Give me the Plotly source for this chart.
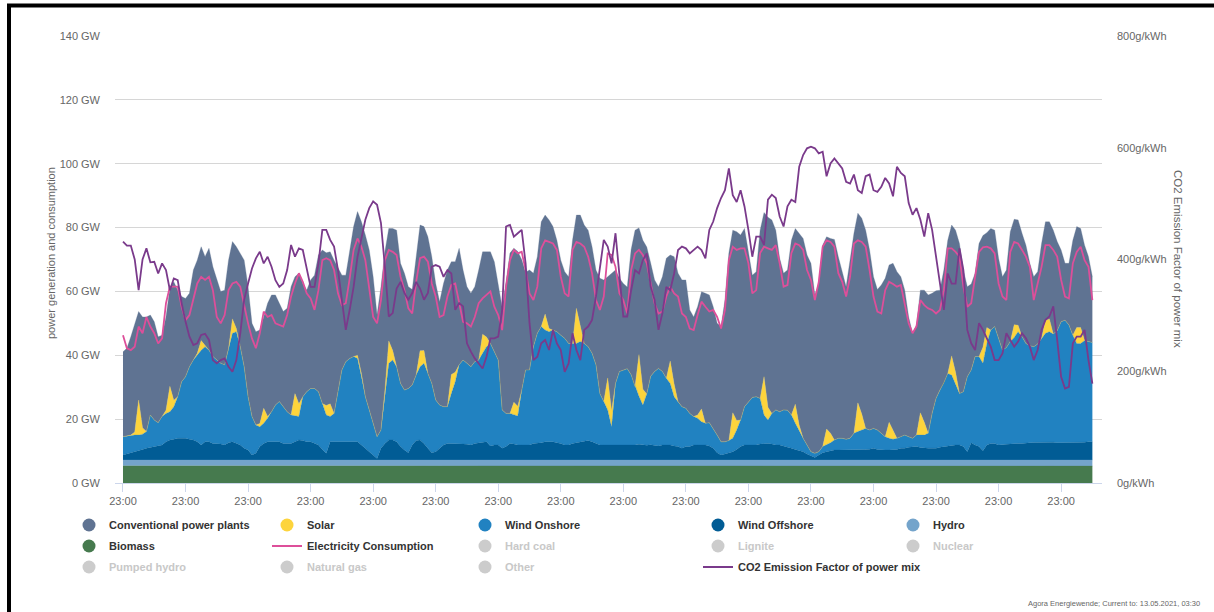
import plotly.graph_objects as go
import pandas as pd

# ---------------- data (3-hourly, starting 11.04.2021 23:00) ----------------
start = "2021-04-11 23:00"
n_points = 249

biomass = [
 5.4,5.4,5.4,5.3,5.3,5.3,5.4,5.4, 5.4,5.3,5.3,5.3,5.3,5.3,5.4,5.4,
 5.4,5.4,5.3,5.3,5.3,5.3,5.3,5.4, 5.4,5.4,5.3,5.3,5.3,5.3,5.4,5.4,
 5.3,5.3,5.3,5.3,5.2,5.2,5.3,5.3, 5.3,5.3,5.3,5.3,5.3,5.3,5.3,5.3,
 5.3,5.3,5.2,5.2,5.2,5.2,5.3,5.3, 5.3,5.3,5.3,5.3,5.3,5.3,5.3,5.3,
 5.3,5.3,5.3,5.3,5.3,5.3,5.3,5.3, 5.3,5.2,5.2,5.3,5.3,5.3,5.3,5.3,
 5.3,5.3,5.3,5.3,5.3,5.3,5.3,5.3, 5.3,5.3,5.2,5.2,5.2,5.3,5.3,5.3,
 5.3,5.3,5.3,5.3,5.2,5.2,5.3,5.3, 5.3,5.3,5.3,5.3,5.3,5.3,5.3,5.3,
 5.3,5.3,5.3,5.2,5.2,5.2,5.3,5.3, 5.3,5.3,5.3,5.3,5.3,5.3,5.3,5.3,
 5.3,5.3,5.3,5.3,5.2,5.2,5.2,5.3, 5.3,5.3,5.2,5.2,5.2,5.2,5.3,5.3,
 5.3,5.3,5.3,5.3,5.3,5.3,5.3,5.3, 5.3,5.3,5.3,5.2,5.2,5.2,5.3,5.3,
 5.3,5.3,5.3,5.3,5.3,5.3,5.3,5.3, 5.3,5.3,5.3,5.3,5.2,5.2,5.3,5.3,
 5.3,5.3,5.3,5.3,5.3,5.3,5.3,5.3, 5.3,5.3,5.3,5.3,5.3,5.3,5.3,5.3,
 5.3,5.3,5.2,5.2,5.2,5.2,5.3,5.3, 5.3,5.3,5.3,5.3,5.3,5.3,5.3,5.3,
 5.3,5.3,5.3,5.3,5.3,5.3,5.3,5.3, 5.3,5.3,5.3,5.2,5.2,5.2,5.3,5.3,
 5.3,5.3,5.3,5.3,5.3,5.3,5.3,5.3, 5.3,5.3,5.3,5.3,5.3,5.3,5.3,5.3,
 5.3,5.3,5.3,5.2,5.2,5.3,5.3,5.3,
 5.3
]

hydro = [
 1.8,1.8,1.8,1.9,1.9,1.9,1.8,1.8, 1.8,1.9,1.9,1.9,1.9,1.9,1.8,1.8,
 1.8,1.8,1.9,1.9,1.9,1.9,1.9,1.8, 1.8,1.8,1.9,1.9,1.9,1.9,1.8,1.8,
 1.9,1.9,1.9,1.9,2.0,2.0,1.9,1.9, 1.9,1.9,1.9,1.9,1.9,1.9,1.9,1.9,
 1.9,1.9,2.0,2.0,2.0,2.0,1.9,1.9, 1.9,1.9,1.9,1.9,1.9,1.9,1.9,1.9,
 1.9,1.9,1.9,1.9,1.9,1.9,1.9,1.9, 1.9,2.0,2.0,1.9,1.9,1.9,1.9,1.9,
 1.9,1.9,1.9,1.9,1.9,1.9,1.9,1.9, 1.9,1.9,2.0,2.0,2.0,1.9,1.9,1.9,
 1.9,1.9,1.9,1.9,2.0,2.0,1.9,1.9, 1.9,1.9,1.9,1.9,1.9,1.9,1.9,1.9,
 1.9,1.9,1.9,2.0,2.0,2.0,1.9,1.9, 1.9,1.9,1.9,1.9,1.9,1.9,1.9,1.9,
 1.9,1.9,1.9,1.9,2.0,2.0,2.0,1.9, 1.9,1.9,2.0,2.0,2.0,2.0,1.9,1.9,
 1.9,1.9,1.9,1.9,1.9,1.9,1.9,1.9, 1.9,1.9,1.9,2.0,2.0,2.0,1.9,1.9,
 1.9,1.9,1.9,1.9,1.9,1.9,1.9,1.9, 1.9,1.9,1.9,1.9,2.0,2.0,1.9,1.9,
 1.9,1.9,1.9,1.9,1.9,1.9,1.9,1.9, 1.9,1.9,1.9,1.9,1.9,1.9,1.9,1.9,
 1.9,1.9,2.0,2.0,2.0,2.0,1.9,1.9, 1.9,1.9,1.9,1.9,1.9,1.9,1.9,1.9,
 1.9,1.9,1.9,1.9,1.9,1.9,1.9,1.9, 1.9,1.9,1.9,2.0,2.0,2.0,1.9,1.9,
 1.9,1.9,1.9,1.9,1.9,1.9,1.9,1.9, 1.9,1.9,1.9,1.9,1.9,1.9,1.9,1.9,
 1.9,1.9,1.9,2.0,2.0,1.9,1.9,1.9,
 1.9
]

wind_offshore = [
 1.6,1.9,2.3,2.6,2.9,3.3,3.7,4.0,  4.2,4.4,4.7,5.7,6.3,6.5,6.8,6.8,
 6.8,6.5,6.3,5.7,4.7,5.7,5.7,5.2,  5.2,5.0,4.7,5.4,5.7,5.2,4.7,3.7,
 3.1,1.6,2.1,4.2,5.2,5.7,5.7,5.7,  5.7,5.2,5.2,5.2,5.7,6.3,6.1,5.7,
 5.7,5.2,4.7,3.3,2.1,5.7,5.7,5.7,  5.7,5.7,5.7,5.7,5.7,4.7,3.7,2.6,
 1.6,0.5,3.7,5.2,6.3,6.3,5.7,4.2,  3.1,2.3,4.7,6.1,6.3,5.2,3.7,2.3,
 2.6,3.7,4.7,5.2,5.2,5.2,5.2,5.0,  4.9,4.7,5.2,5.4,5.7,5.7,4.4,4.7,
 4.7,3.7,4.2,5.2,5.0,4.7,4.7,4.7,  4.7,5.2,5.2,5.4,5.7,5.7,5.7,5.4,
 5.2,4.7,4.7,5.2,5.4,5.7,5.7,6.1,  5.7,5.2,4.7,4.7,4.7,4.7,4.7,4.7,
 4.7,4.6,4.8,4.7,4.9,4.7,4.6,4.8,  4.7,4.4,4.7,4.7,4.7,4.4,4.2,3.7,
 4.2,4.2,4.7,4.7,4.7,4.7,4.4,3.7,  2.3,1.6,1.9,2.3,2.6,3.3,4.2,4.7,
 4.7,4.7,4.7,5.0,5.2,5.2,5.0,4.7,  4.7,4.4,4.2,3.7,3.3,2.9,2.6,1.9,
 1.3,0.8,1.6,2.3,2.6,2.9,3.1,3.1,  3.1,3.1,3.1,3.3,3.3,3.3,3.3,3.4,
 3.7,3.3,3.1,3.1,3.1,3.1,3.3,3.7,  3.7,4.0,4.2,4.2,3.9,3.7,3.7,3.7,
 3.7,4.0,4.2,4.2,4.4,4.7,4.7,4.2,  2.6,5.4,4.7,4.2,2.9,4.7,5.2,5.2,
 4.7,4.7,4.9,5.0,5.2,5.2,5.2,5.2,  5.4,5.5,5.5,5.6,5.7,5.7,5.6,5.4,
 5.4,5.4,5.4,5.4,5.4,5.5,5.6,5.7,
 5.7
]

wind_onshore = [
 5.7,5.6,5.5,5.2,4.9,4.8,5.2,10.1,    8.3,7.3,8.9,8.9,8.8,10.2,13.0,17.7,
 19.3,22.7,25.0,27.2,29.7,29.8,28.7,27.2, 26.1,25.3,25.1,29.0,34.0,35.0,30.8,25.5,
 16.7,12.0,8.9,6.2,6.3,7.4,9.4,11.5,  12.6,11.5,9.9,8.9,8.1,7.3,13.7,15.7,
 16.7,17.2,16.7,14.4,12.0,7.9,8.9,15.7, 22.5,25.1,26.1,26.7,26.1,21.4,16.1,13.1,
 9.9,6.8,5.7,15.6,24.0,25.0,23.5,19.8, 18.8,20.1,18.8,20.5,22.9,25.1,23.4,21.7,
 16.2,13.5,12.0,11.5,15.6,19.3,24.6,26.3, 25.4,24.5,25.6,25.9,27.7,29.8,32.1,29.2,
 26.6,12.0,10.4,9.4,9.1,9.1,17.1,23.5, 23.5,30.3,34.5,36.4,35.0,34.5,35.0,34.8,
 33.9,33.4,31.8,31.3,31.1,31.4,30.8,29.4, 27.7,24.6,16.1,13.6,11.0,5.7,19.3,23.0,
 23.5,24.0,21.9,18.3,15.1,12.5,16.1,21.4, 23.0,24.3,23.0,20.9,19.3,15.4,14.1,13.0,
 12.0,10.4,8.9,8.4,7.3,6.8,7.3,6.2,    5.5,4.1,3.8,3.8,4.2,6.1,8.3,12.0,
 13.6,14.9,15.1,14.3,8.9,7.3,9.6,11.0, 10.4,11.3,11.4,10.4,8.2,6.0,4.2,2.8,
 1.3,1.3,1.0,1.9,2.1,2.5,3.2,3.7,      3.7,3.4,3.7,5.1,5.6,6.1,6.6,6.0,
 6.2,6.1,5.3,4.2,3.7,3.4,3.5,3.6,      4.1,3.3,2.6,3.6,3.9,4.1,4.7,10.9,
 15.6,17.9,20.0,22.9,22.2,18.8,16.1,17.2, 23.5,22.8,27.7,28.2,27.4,31.8,35.5,36.6,
 33.4,29.7,30.3,32.1,33.2,35.0,33.4,31.3, 30.4,30.0,30.8,32.5,34.0,34.5,33.9,35.1,
 37.9,38.4,36.9,33.7,31.1,31.0,31.8,31.4,
 31.1
]

solar = [
 0,0,0,1,11,2,0,0,   0,0,0,1,8,2,0,0,   0,0,0,0.5,3,0.5,0,0,  0,0,0,0.5,4.5,1,0,0,
 0,0,0,1,4.7,0.5,0,0, 0,0,0,0,7,4,0,0,  0,0,0,0,3,4,0,0,      0,0,0,0,1,1,0,0,
 0,0,0,1,7,3,0,0,    0,0,0,0,5,4,0,0,   0,0,0,0,6,3,0,0,      0,0,0,0,6,3,0,0,
 0,0,0,0,4,3,0,0,    0,0,0,0,5,1,0,0,   0,0,0,0,11,5,0,0,     0,0,0,0,10,5,0,0,
 0,0,0,0,13,5,0,0,   0,0,0,0,7,4,0,0,   0,0,0,1,4,0,0,0,      0,0,0,0,8,3,0,0,
 0,0,0,0,12,4,0,0,   0,0,0,0,6,2,0,0,   0,0,0,0,5,3,0,0,      0,0,0,0,9,5,0,0,
 0,0,0,0,5,3,0,0,    0,0,0,0,7,4,0,0,   0,0,0,0,6,4,0,0,      0,0,0,0,5,5,0,0,
 0,0,0,0,4,2,0,0,    0,0,0,0,4,4,0,0,   0,0,0,0,5,5,0,0,
 0
]

conventional = [
 26.6,27.5,30.8,34.0,27.7,34.7,35.9,31.3,  30.8,26.9,25.5,29.2,30.7,37.1,33.4,26.7,
 24.5,23.0,28.2,29.2,29.4,27.7,31.9,28.1,  25.1,22.5,23.4,27.7,24.2,25.6,29.2,33.4,
 34.5,29.2,29.2,29.3,28.6,35.5,36.6,34.5,  30.8,29.8,32.4,40.2,36.6,40.9,35.5,31.8,
 34.0,35.5,42.8,48.1,47.8,47.6,48.0,38.6,  29.7,27.1,34.0,40.7,45.0,47.5,50.7,50.1,
 45.9,38.1,44.9,43.4,35.2,38.2,42.8,37.6,  36.6,31.9,29.9,37.1,39.4,38.8,42.8,39.7,
 36.5,32.4,38.6,42.8,35.3,34.6,36.5,28.2,  24.0,23.0,23.5,28.2,25.8,26.7,28.7,28.2,
 23.5,32.1,41.2,50.2,48.2,48.5,41.0,30.6,  31.3,23.0,24.0,32.8,31.0,34.0,32.4,28.6,
 23.5,20.9,20.9,32.3,29.2,34.6,37.1,36.5,  33.4,29.7,36.1,38.1,31.7,43.1,35.5,29.2,
 27.1,25.6,39.2,49.0,39.7,46.6,46.0,35.5,  28.7,25.6,29.7,37.6,33.2,39.9,40.2,39.7,
 40.2,32.4,31.2,33.9,36.7,40.7,40.0,38.1,  35.0,36.1,44.4,58.7,57.2,59.1,58.0,55.8,
 46.9,38.3,39.2,52.7,51.4,59.5,60.6,56.3,  48.1,42.8,43.9,54.7,55.0,60.1,62.6,59.5,
 59.0,49.6,52.7,63.1,60.2,61.0,62.8,56.9,  51.7,47.8,55.8,62.6,59.4,61.3,62.1,56.4,
 47.5,44.0,46.4,49.6,49.3,52.1,52.2,50.1,  45.4,37.5,32.9,34.5,38.4,41.4,43.3,37.6,
 33.7,31.3,35.3,41.7,41.0,44.5,47.0,38.1,  28.2,26.9,26.1,35.4,35.0,29.7,31.8,30.2,
 25.1,23.0,24.3,34.4,33.0,33.0,32.4,30.8,  25.8,21.9,22.7,29.7,30.9,30.4,32.5,27.9,
 22.5,17.8,19.3,29.7,31.6,31.0,29.9,26.6,
 20.6
]

consumption = [
 46.3,42.2,41.6,42.7,49.0,46.9,52.0,49.0,  46.9,43.7,45.3,56.3,61.5,61.5,61.5,55.2,
 51.0,52.6,57.3,62.5,64.6,63.6,64.6,60.4,  52.0,50.0,52.6,60.4,62.5,63.0,61.5,55.2,
 50.0,45.3,42.2,46.9,53.7,52.0,52.6,50.0,  49.5,49.0,52.6,58.4,62.5,65.7,63.0,59.4,
 57.8,54.2,60.4,69.8,70.4,69.8,66.7,59.4,  55.7,56.3,64.1,73.0,76.6,74.0,69.8,61.5,
 52.0,50.0,57.3,69.8,73.0,72.4,71.4,64.6,  60.4,54.7,53.1,63.0,70.4,70.9,69.3,62.5,
 58.4,52.0,52.6,58.4,62.0,62.5,56.3,50.5,  50.0,49.0,52.0,56.3,57.8,58.9,60.0,55.2,
 52.6,47.9,61.5,69.8,73.0,71.9,72.4,66.7,  59.4,57.3,61.5,73.5,76.0,75.5,75.0,73.0,
 64.6,59.4,58.4,73.0,75.5,75.0,74.0,70.9,  65.7,57.3,54.2,58.4,71.9,71.4,67.7,59.4,
 57.3,53.1,66.7,71.9,73.0,71.4,68.8,62.5,  56.3,53.1,53.7,58.4,61.5,59.4,58.4,53.1,
 52.0,48.4,47.9,52.6,56.8,55.2,53.7,54.2,  52.0,48.4,54.2,69.8,74.0,73.0,73.5,73.5,
 68.8,59.4,60.4,72.0,74.0,73.5,73.0,74.5,  68.8,61.5,62.0,72.0,75.0,74.5,73.0,66.7,
 63.6,57.3,63.0,74.0,76.0,75.5,74.0,65.7,  63.0,58.4,64.6,75.0,76.0,75.5,74.0,66.7,
 58.4,53.7,53.1,60.4,63.0,62.3,61.5,62.0,  56.3,50.0,46.9,49.0,57.3,55.7,54.7,54.2,
 53.1,54.2,60.4,73.5,73.5,72.4,70.9,61.5,  55.2,56.3,64.6,72.4,73.8,74.0,73.5,71.9,
 62.5,58.4,57.3,72.4,75.5,75.0,73.0,70.9,  67.7,57.3,62.5,67.7,74.5,74.5,73.0,70.9,
 63.6,58.4,57.8,68.8,72.4,74.0,69.8,67.7,
 57.3
]

co2_factor = [
 432,425,425,400,345,400,420,395,  396,375,393,381,345,366,363,322,
 289,262,247,250,265,267,256,220,  214,220,223,208,199,220,268,328,
 357,384,402,414,393,405,387,363,  351,357,381,426,405,420,417,381,
 351,351,393,453,453,435,423,381,  322,274,310,351,405,441,471,492,
 504,498,465,387,298,304,348,360,  340,328,340,360,348,328,340,387,
 390,387,369,381,375,310,322,316,  250,235,223,214,205,226,259,259,
 262,310,459,462,441,447,453,393,  286,220,226,250,256,238,274,250,
 238,199,214,268,238,220,274,280,  292,334,387,435,423,393,447,369,
 298,298,345,381,375,399,411,351,  328,274,304,351,345,375,417,423,
 420,411,417,423,417,402,453,468,  492,510,524,563,515,503,524,495,
 453,405,441,441,426,507,516,510,  477,459,495,507,503,566,587,599,
 602,599,590,593,549,572,581,572,  563,539,536,552,524,519,549,552,
 524,521,530,546,536,513,566,555,  549,501,480,492,471,441,483,453,
 405,357,310,375,357,357,420,381,  274,250,238,286,274,259,244,220,
 220,232,268,256,244,253,268,259,  244,220,238,274,292,298,316,256,
 190,169,172,250,262,262,274,220,
 178
]

left_ticks = [0, 20, 40, 60, 80, 100, 120, 140]
right_ticks = [0, 200, 400, 600, 800]

series = {"biomass": biomass, "hydro": hydro, "wind_offshore": wind_offshore,
          "wind_onshore": wind_onshore, "solar": solar, "conventional": conventional,
          "consumption": consumption, "co2": co2_factor}
for k, v in series.items():
    assert len(v) == n_points, (k, len(v))

times = pd.date_range(start=start, periods=n_points, freq="3h").strftime("%Y-%m-%d %H:%M:%S").tolist()

# ---------------- styling ----------------
C_CONV = "#5f7392"
C_SOLAR = "#fdd43c"
C_ON = "#2182c1"
C_OFF = "#015c95"
C_HYDRO = "#74a4cb"
C_BIO = "#467a4e"
C_CONS = "#dd4f9a"
C_CO2 = "#7a3a8b"
C_OFFLEG = "#cccccc"
FONT = "Liberation Sans, Arial, Helvetica, sans-serif"

W, H = 1214, 612
L, R, T, B = 115, 112, 36, 129


def px_x(p):
    return (p - L) / (W - L - R)


def px_y(p):
    return (H - B - p) / (H - T - B)


fig = go.Figure()

stack = [
    ("Biomass", biomass, C_BIO),
    ("Hydro", hydro, C_HYDRO),
    ("Wind Offshore", wind_offshore, C_OFF),
    ("Wind Onshore", wind_onshore, C_ON),
    ("Solar", solar, C_SOLAR),
    ("Conventional power plants", conventional, C_CONV),
]
for name, vals, col in stack:
    fig.add_trace(go.Scatter(
        x=times, y=vals, name=name, stackgroup="gen", mode="lines",
        line=dict(width=0.3, color=col), fillcolor=col,
        showlegend=False, hoverinfo="x+y+name"))

fig.add_trace(go.Scatter(x=times, y=consumption, name="Electricity Consumption",
                         mode="lines", line=dict(color=C_CONS, width=1.8),
                         showlegend=False))
fig.add_trace(go.Scatter(x=times, y=co2_factor, name="CO2 Emission Factor of power mix",
                         mode="lines", line=dict(color=C_CO2, width=1.8),
                         yaxis="y2", showlegend=False))

# ---------------- legend (one small legend per entry, placed like the original) ----------------
legend_items = [
    ("Conventional power plants", "marker", C_CONV, 109, 525, True),
    ("Solar", "marker", C_SOLAR, 307, 525, True),
    ("Wind Onshore", "marker", C_ON, 505, 525, True),
    ("Wind Offshore", "marker", C_OFF, 738, 525, True),
    ("Hydro", "marker", C_HYDRO, 933, 525, True),
    ("Biomass", "marker", C_BIO, 109, 546, True),
    ("Electricity Consumption", "line", C_CONS, 307, 546, True),
    ("Hard coal", "marker", C_OFFLEG, 505, 546, False),
    ("Lignite", "marker", C_OFFLEG, 738, 546, False),
    ("Nuclear", "marker", C_OFFLEG, 933, 546, False),
    ("Pumped hydro", "marker", C_OFFLEG, 109, 567, False),
    ("Natural gas", "marker", C_OFFLEG, 307, 567, False),
    ("Other", "marker", C_OFFLEG, 505, 567, False),
    ("CO2 Emission Factor of power mix", "line", C_CO2, 738, 567, True),
]
legend_layouts = {}
for i, (name, kind, col, tx, ty, active) in enumerate(legend_items):
    lname = "legend" if i == 0 else f"legend{i + 1}"
    if kind == "marker":
        tr = go.Scatter(x=[None], y=[None], mode="markers", name=name,
                        marker=dict(symbol="circle", size=13, color=col),
                        legend=lname, showlegend=True, hoverinfo="skip")
    else:
        tr = go.Scatter(x=[None], y=[None], mode="lines", name=name,
                        line=dict(color=col, width=2),
                        legend=lname, showlegend=True, hoverinfo="skip")
    fig.add_trace(tr)
    legend_layouts[lname] = dict(
        x=(tx - 40) / W, y=1 - ty / H, xref="container", yref="container",
        xanchor="left", yanchor="middle", bgcolor="rgba(0,0,0,0)", borderwidth=0,
        font=dict(family=FONT, size=11, color="#333333" if active else "#c8c8c8",
                  weight="bold"),
        itemwidth=30, tracegroupgap=0)

# ---------------- layout ----------------
px_per_hour = 31.27 / 24.0
t0 = pd.Timestamp(start)
x_lo = (t0 - pd.Timedelta(minutes=round(60 * (123 - L) / px_per_hour))).strftime("%Y-%m-%d %H:%M:%S")
x_hi = (t0 + pd.Timedelta(minutes=round(60 * (W - R - 123) / px_per_hour))).strftime("%Y-%m-%d %H:%M:%S")

fig.update_layout(
    width=W, height=H, autosize=False,
    margin=dict(l=L, r=R, t=T, b=B, pad=0, autoexpand=False),
    paper_bgcolor="white", plot_bgcolor="white",
    font=dict(family=FONT, color="#666666", size=11),
    xaxis=dict(type="date", range=[x_lo, x_hi], tick0=start + ":00", dtick=2 * 86400000,
               tickformat="%H:%M", showgrid=False, zeroline=False,
               showline=True, linecolor="#ccd6eb", linewidth=1,
               ticks="outside", ticklen=8, tickcolor="#ccd6eb", tickwidth=1,
               tickfont=dict(size=11, color="#666666"), automargin=False),
    yaxis=dict(range=[0, 140], tickvals=left_ticks,
               ticktext=[f"{v} GW" for v in left_ticks],
               showgrid=True, gridcolor="#d6d6d6", gridwidth=1, zeroline=False,
               showline=False, ticks="", ticklabelstandoff=14, automargin=False,
               tickfont=dict(size=11, color="#666666")),
    yaxis2=dict(range=[0, 800], tickvals=right_ticks,
                ticktext=[f"{v}g/kWh" for v in right_ticks],
                overlaying="y", side="right", showgrid=False, zeroline=False,
                showline=False, ticks="", ticklabelstandoff=14, automargin=False,
                tickfont=dict(size=11, color="#666666")),
    hovermode="x",
    **legend_layouts,
)

fig.add_annotation(text="power generation and consumption", textangle=-90,
                   x=px_x(51), y=px_y(253), xref="paper", yref="paper",
                   xanchor="center", yanchor="middle",
                   showarrow=False, font=dict(size=11, color="#666666", family=FONT))
fig.add_annotation(text="CO2 Emission Factor of power mix", textangle=90,
                   x=px_x(1178), y=px_y(259), xref="paper", yref="paper",
                   xanchor="center", yanchor="middle",
                   showarrow=False, font=dict(size=11.5, color="#666666", family=FONT))
fig.add_annotation(text="Agora Energiewende; Current to: 13.05.2021, 03:30",
                   x=px_x(1202), y=px_y(603), xref="paper", yref="paper",
                   xanchor="right", yanchor="middle", showarrow=False,
                   font=dict(size=7.5, color="#666666", family=FONT))

# black frame of the screenshot (left and top edges)
frame = dict(type="line", xref="paper", yref="paper", line=dict(color="black", width=4), layer="above")
fig.add_shape(**frame, x0=px_x(9), x1=px_x(9), y0=px_y(4), y1=px_y(620))
fig.add_shape(**frame, x0=px_x(7), x1=px_x(1220), y0=px_y(5.5), y1=px_y(5.5))

fig.write_html("out.html", config={"displayModeBar": False},
               post_script="document.body.style.margin='0';document.body.style.overflow='hidden';")
